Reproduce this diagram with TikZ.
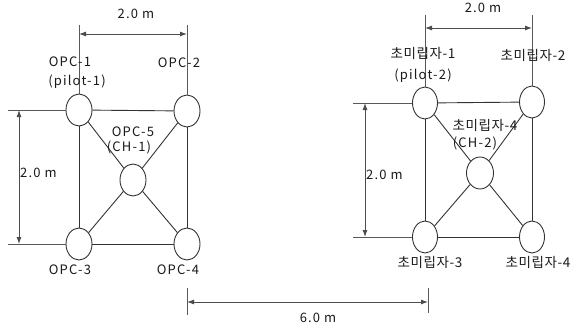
\documentclass[tikz,border=0pt]{standalone}
\usepackage{fontspec}
\setmainfont{Noto Sans CJK KR}[LetterSpace=9]
\newfontfamily\krf{Noto Sans CJK KR}[LetterSpace=4]
\usetikzlibrary{shapes.geometric,arrows.meta}
\begin{document}
\begin{tikzpicture}[x=1pt,y=-1pt,
  ln/.style={draw=black!80,line width=0.9pt},
  ext/.style={draw=black!65,line width=0.8pt},
  dimarrow/.style={draw=black!70,line width=0.9pt,{Latex[length=7pt,width=5pt]}-{Latex[length=7pt,width=5pt]}},
  sensor/.style={ellipse,draw=black!80,line width=0.9pt,fill=white,inner sep=0pt,minimum width=26pt,minimum height=32pt},
  lbl/.style={inner sep=0pt,font=\fontsize{13}{15}\selectfont,text=black!90},
  klbl/.style={inner sep=0pt,font=\krf\fontsize{13.5}{15}\selectfont,text=black!90}]
\useasboundingbox (0,0) rectangle (576,329);
% ---------- left group ----------
\node[sensor] (o1) at (79,110) {};
\node[sensor] (o2) at (187,111) {};
\node[sensor] (o5) at (133,180) {};
\node[sensor] (o3) at (79,244) {};
\node[sensor] (o4) at (187,244) {};
\draw[ln] (o1) -- (o2);
\draw[ln] (o3) -- (o4);
\draw[ln] (o1) -- (o3);
\draw[ln] (o2) -- (o4);
\draw[ln] (o1) -- (o5);
\draw[ln] (o2) -- (o5);
\draw[ln] (o3) -- (o5);
\draw[ln] (o4) -- (o5);
% top dimension
\coordinate (et1) at (79,25);
\coordinate (et2) at (187,25);
\draw[ext] (et1) -- (o1);
\draw[ext] (et2) -- (o2);
\coordinate (at1) at (79,34);
\coordinate (at2) at (187,34);
\draw[dimarrow] (at1) -- (at2);
\node[lbl] (d1) at (136,14) {2.0 m};
% left dimension
\coordinate (el1) at (8,110);
\coordinate (el3) at (8,244);
\draw[ext] (el1) -- (o1);
\draw[ext] (el3) -- (o3);
\coordinate (al1) at (19,110);
\coordinate (al3) at (19,244);
\draw[dimarrow] (al1) -- (al3);
\node[lbl,anchor=west] (d2) at (20,173) {2.0 m};
% labels
\node[lbl] (t1) at (70,62) {OPC-1};
\node[lbl] (t1b) at (77,82) {(pilot-1)};
\node[lbl] (t2) at (179,63) {OPC-2};
\node[lbl] (t5) at (133,132) {OPC-5};
\node[lbl] (t5b) at (129,147) {(CH-1)};
\node[lbl] (t3) at (70,270) {OPC-3};
\node[lbl] (t4) at (178,270) {OPC-4};
% ---------- right group ----------
\node[sensor,minimum width=25pt] (k1) at (425,103) {};
\node[sensor,minimum width=25pt] (k2) at (532,102) {};
\node[sensor,minimum width=27pt] (k5) at (480,173) {};
\node[sensor,minimum width=25pt] (k3) at (425,237) {};
\node[sensor,minimum width=25pt] (k4) at (532,237) {};
\draw[ln] (k1) -- (k2);
\draw[ln] (k3) -- (k4);
\draw[ln] (k1) -- (k3);
\draw[ln] (k2) -- (k4);
\draw[ln] (k1) -- (k5);
\draw[ln] (k2) -- (k5);
\draw[ln] (k3) -- (k5);
\draw[ln] (k4) -- (k5);
% top dimension
\coordinate (ek1) at (425,15);
\coordinate (ek2) at (532,15);
\draw[ext] (ek1) -- (k1);
\draw[ext] (ek2) -- (k2);
\coordinate (ak1) at (425,28);
\coordinate (ak2) at (532,28);
\draw[dimarrow] (ak1) -- (ak2);
\node[lbl] (d3) at (483,8) {2.0 m};
% left dimension
\coordinate (ekl1) at (353,103);
\coordinate (ekl3) at (353,237);
\draw[ext] (ekl1) -- (k1);
\draw[ext] (ekl3) -- (k3);
\coordinate (akl1) at (365,103);
\coordinate (akl3) at (365,237);
\draw[dimarrow] (akl1) -- (akl3);
\node[lbl,anchor=west] (d4) at (366,175) {2.0 m};
% labels
\node[klbl] (s1) at (423,53) {초미립자-1};
\node[lbl] (s1b) at (423,76) {(pilot-2)};
\node[klbl] (s2) at (533,55) {초미립자-2};
\node[klbl] (s5) at (485,125) {초미립자-4};
\node[lbl] (s5b) at (475,143) {(CH-2)};
\node[klbl] (s3) at (430,262) {초미립자-3};
\node[klbl] (s4) at (538,262) {초미립자-4};
% ---------- bottom dimension ----------
\coordinate (b1t) at (187,288);
\coordinate (b1b) at (187,315);
\coordinate (b2t) at (428,288);
\coordinate (b2b) at (428,313);
\draw[ext] (b1t) -- (b1b);
\draw[ext] (b2t) -- (b2b);
\coordinate (ab1) at (187,302);
\coordinate (ab2) at (428,302);
\draw[dimarrow] (ab1) -- (ab2);
\node[lbl] (d5) at (318,318) {6.0 m};
\end{tikzpicture}
\end{document}
